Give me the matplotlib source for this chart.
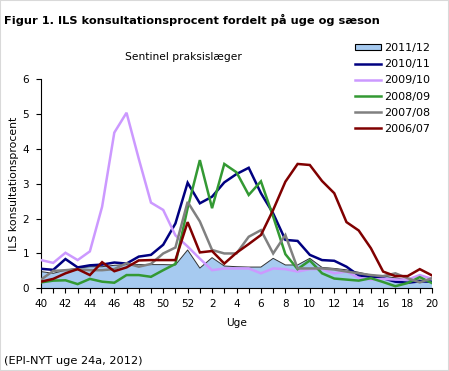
import matplotlib
matplotlib.use("Agg")
import matplotlib.pyplot as plt
from matplotlib.patches import Rectangle, Patch
from matplotlib.lines import Line2D

weeks = list(range(40, 53)) + list(range(1, 21))
tick_labels = [str(w) if w % 2 == 0 else "" for w in weeks]

s2011_12 = [0.48, 0.43, 0.52, 0.58, 0.62, 0.62, 0.66, 0.68, 0.68, 0.68, 0.68, 0.67, 1.10,
            0.58, 0.88, 0.64, 0.62, 0.61, 0.61, 0.86, 0.67, 0.67, 0.86, 0.60, 0.57, 0.53,
            0.46, 0.38, 0.35, 0.30, 0.24, 0.24, 0.20]
s2010_11 = [0.56, 0.53, 0.84, 0.60, 0.66, 0.68, 0.74, 0.71, 0.91, 0.96, 1.25, 1.86, 3.03,
            2.44, 2.63, 3.04, 3.28, 3.46, 2.73, 2.15, 1.39, 1.36, 0.96, 0.81, 0.79, 0.62,
            0.37, 0.33, 0.29, 0.19, 0.16, 0.20, 0.19]
s2009_10 = [0.81, 0.73, 1.02, 0.81, 1.06, 2.34, 4.47, 5.04, 3.72, 2.46, 2.25, 1.52, 1.20,
            0.85, 0.52, 0.57, 0.57, 0.57, 0.43, 0.57, 0.55, 0.48, 0.55, 0.55, 0.43, 0.48,
            0.30, 0.25, 0.27, 0.25, 0.25, 0.38, 0.27]
s2008_09 = [0.17, 0.22, 0.23, 0.12, 0.27, 0.19, 0.16, 0.38, 0.38, 0.33, 0.52, 0.70, 2.30,
            3.68, 2.30, 3.57, 3.33, 2.68, 3.07, 2.06, 0.98, 0.55, 0.80, 0.43, 0.28, 0.25,
            0.22, 0.29, 0.18, 0.06, 0.15, 0.32, 0.15]
s2007_08 = [0.25, 0.50, 0.52, 0.55, 0.52, 0.52, 0.55, 0.72, 0.62, 0.70, 1.00, 1.17, 2.48,
            1.92, 1.10, 1.00, 1.00, 1.48, 1.67, 1.00, 1.53, 0.57, 0.57, 0.57, 0.54, 0.48,
            0.43, 0.38, 0.35, 0.43, 0.29, 0.17, 0.29]
s2006_07 = [0.19, 0.27, 0.43, 0.55, 0.38, 0.75, 0.49, 0.60, 0.80, 0.81, 0.81, 0.81, 1.90,
            1.03, 1.07, 0.71, 1.02, 1.27, 1.53, 2.25, 3.06, 3.57, 3.54, 3.08, 2.73, 1.90,
            1.66, 1.15, 0.48, 0.35, 0.35, 0.55, 0.37]

line_series = [
    ("2010/11", s2010_11, "#000080"),
    ("2009/10", s2009_10, "#CC99FF"),
    ("2008/09", s2008_09, "#339933"),
    ("2007/08", s2007_08, "#808080"),
    ("2006/07", s2006_07, "#800000"),
]

plt.rcParams['font.family'] = ['DejaVu Sans']
fig = plt.figure(figsize=(4.49, 3.71), dpi=100)
ax = fig.add_axes([41/449, 1-288.3/371, (432-41)/449, (288.3-79.3)/371])

x = list(range(len(weeks)))
ax.fill_between(x, s2011_12, 0, facecolor="#A6CAF0", edgecolor="none", zorder=1)
ax.plot(x, s2011_12, color="#333333", lw=0.7, zorder=2)
for name, vals, col in line_series:
    ax.plot(x, vals, color=col, lw=1.8, zorder=3, solid_joinstyle='miter')

ax.set_xlim(0, len(weeks)-1)
ax.set_ylim(0, 6)
ax.set_xticks(x)
ax.set_xticklabels(tick_labels)
ax.set_yticks(range(0, 7))
for s in ["top", "right"]:
    ax.spines[s].set_visible(False)
for s in ["left", "bottom"]:
    ax.spines[s].set_linewidth(0.8)
ax.tick_params(axis='both', direction='out', length=3.5, width=0.8, labelsize=7.5, colors='black')
ax.tick_params(axis='x', pad=4)
ax.tick_params(axis='y', pad=5)
ax.set_xlabel("Uge", fontsize=7.6)
ax.set_ylabel("ILS konsultationsprocent", fontsize=7.8)
ax.xaxis.set_label_coords(0.5, (288.3-317.5)/209)
ax.yaxis.set_label_coords((19-41)/391, 0.5)

fig.text(4/449, 1-20/371, "Figur 1. ILS konsultationsprocent fordelt på uge og sæson",
         fontsize=8.2, fontweight='bold', ha='left', va='center')
fig.text(183/449, 1-57/371, "Sentinel praksislæger", fontsize=7.7, ha='center', va='center')
fig.text(3.5/449, 1-361/371, "(EPI-NYT uge 24a, 2012)", fontsize=8.2, ha='left', va='center')

handles = [Patch(facecolor="#A6CAF0", edgecolor="black", lw=0.8)]
labels = ["2011/12"]
for name, vals, col in line_series:
    handles.append(Line2D([], [], color=col, lw=1.8))
    labels.append(name)
fig.legend(handles, labels, loc='upper left', bbox_to_anchor=(355/449, 1-43/371),
           frameon=False, fontsize=8.0, borderpad=0, handlelength=2.3, handleheight=0.55,
           handletextpad=0.3, labelspacing=0.56, borderaxespad=0)

fig.patches.append(Rectangle((0, 0), 1, 1, transform=fig.transFigure, fill=False,
                             edgecolor="#D9D9D9", lw=1.5))

fig.savefig("out.png", dpi=100)
